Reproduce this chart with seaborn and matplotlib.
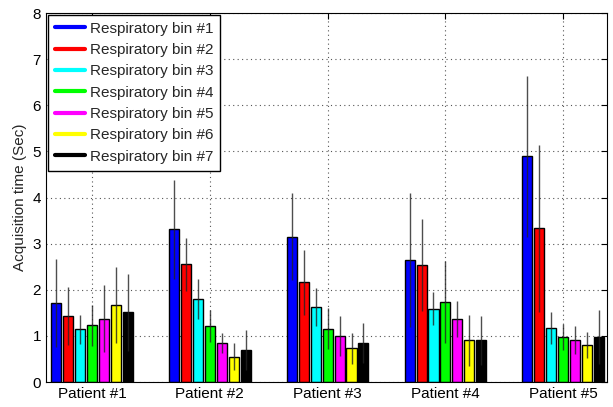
import numpy as np
import pandas as pd
import matplotlib
matplotlib.use("Agg")
import matplotlib.pyplot as plt
from matplotlib.lines import Line2D
import seaborn as sns

patients = ["Patient #1", "Patient #2", "Patient #3", "Patient #4", "Patient #5"]
bins = ["Respiratory bin #%d" % i for i in range(1, 8)]
colors = ["#0000ff", "#ff0000", "#00ffff", "#00ff00", "#ff00ff", "#ffff00", "#000000"]

# mean acquisition time per patient, one list per respiratory bin
bin1 = [1.71, 3.31, 3.15, 2.65, 4.89]
bin2 = [1.43, 2.55, 2.16, 2.54, 3.33]
bin3 = [1.14, 1.80, 1.63, 1.59, 1.17]
bin4 = [1.23, 1.21, 1.16, 1.74, 0.98]
bin5 = [1.37, 0.84, 1.00, 1.37, 0.91]
bin6 = [1.67, 0.55, 0.73, 0.90, 0.80]
bin7 = [1.51, 0.70, 0.85, 0.90, 0.98]

# standard deviations
err1 = [0.95, 1.07, 0.94, 1.45, 1.75]
err2 = [0.62, 0.57, 0.70, 0.99, 1.81]
err3 = [0.31, 0.43, 0.41, 0.36, 0.34]
err4 = [0.44, 0.35, 0.44, 0.89, 0.28]
err5 = [0.73, 0.22, 0.43, 0.39, 0.30]
err6 = [0.83, 0.30, 0.33, 0.55, 0.28]
err7 = [0.83, 0.43, 0.43, 0.53, 0.58]

means = [bin1, bin2, bin3, bin4, bin5, bin6, bin7]
errs = [err1, err2, err3, err4, err5, err6, err7]

rows = []
for b, (m, e) in enumerate(zip(means, errs)):
    for p, pat in enumerate(patients):
        rows.append({"patient": pat, "bin": bins[b], "time": m[p], "err": e[p]})
df = pd.DataFrame(rows)

sns.set_style("white")
plt.rcParams["font.family"] = ["Liberation Sans", "DejaVu Sans"]

fig = plt.figure(figsize=(6.13, 4.07), dpi=100)
ax = fig.add_axes([0.075, 0.0614, 0.915, 0.9066])

sns.barplot(data=df, x="patient", y="time", hue="bin", order=patients,
            hue_order=bins, palette=colors, errorbar=None, width=0.71,
            gap=0.16, edgecolor="black", linewidth=1.0, saturation=1,
            legend=False, ax=ax)

# error bars on the bar centers
bar_containers = list(ax.containers)
for b, cont in enumerate(bar_containers):
    xs = [p.get_x() + p.get_width() / 2 for p in cont.patches]
    ys = [p.get_height() for p in cont.patches]
    ax.errorbar(xs, ys, yerr=errs[b], fmt="none", ecolor="#222222",
                elinewidth=1.0, capsize=0, alpha=0.8, zorder=5)

ax.set_ylim(0, 8)
ax.set_xlim(-0.39, 4.37)
ax.set_yticks(range(0, 9))
ax.set_xlabel("")
ax.set_ylabel("Acquisition time (Sec)", fontsize=11)
ax.grid(True, linestyle=(0, (1, 3)), color="#555555", linewidth=0.8)
ax.set_axisbelow(True)
ax.tick_params(axis="both", direction="in", length=4, labelsize=11,
               top=True, right=True, width=0.8, colors="black")
for s in ax.spines.values():
    s.set_color("black")
    s.set_linewidth(0.8)

handles = [Line2D([0], [0], color=c, lw=3) for c in colors]
leg = ax.legend(handles, bins, loc="upper left", fontsize=11,
                frameon=True, fancybox=False, framealpha=1, edgecolor="black",
                handlelength=2.0, handletextpad=0.3, labelspacing=0.48,
                borderpad=0.45, borderaxespad=0.12)
leg.get_frame().set_linewidth(1.0)

fig.savefig("out.png", dpi=100)
